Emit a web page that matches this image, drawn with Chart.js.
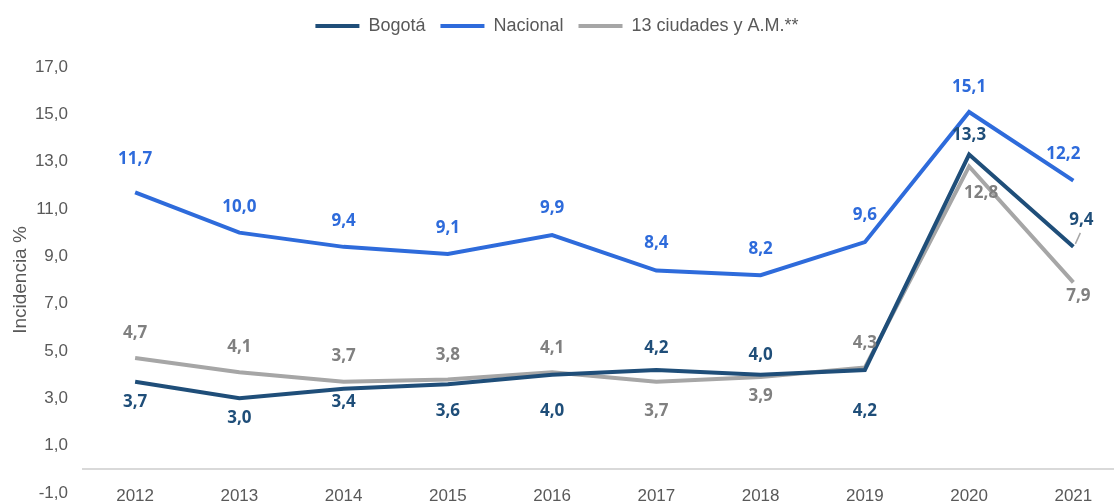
<!DOCTYPE html>
<html>
<head>
<meta charset="utf-8">
<script src="https://cdn.jsdelivr.net/npm/chart.js@4/dist/chart.umd.min.js"></script>
<style>
  html, body { margin: 0; padding: 0; background: #fff; }
  #wrap { width: 1114px; height: 501px; }
</style>
</head>
<body>
<div id="wrap"><canvas id="lineChart"></canvas></div>
<script>
const years = [2012, 2013, 2014, 2015, 2016, 2017, 2018, 2019, 2020, 2021];
const bogota = [3.7, 3.0, 3.4, 3.6, 4.0, 4.2, 4.0, 4.2, 13.3, 9.4];
const nacional = [11.7, 10.0, 9.4, 9.1, 9.9, 8.4, 8.2, 9.6, 15.1, 12.2];
const ciudades = [4.7, 4.1, 3.7, 3.8, 4.1, 3.7, 3.9, 4.3, 12.8, 7.9];

// where each value label sits relative to its point (pixels)
const bogotaLabelPos = [[0, 20], [0, 20], [0, 13], [0, 27], [0, 36], [0, -22], [0, -20], [0, 41], [0, -19], [8, -27]];
const nacionalLabelPos = [[0, -33], [0, -26], [0, -26], [0, -26], [0, -27], [0, -27], [0, -26], [0, -27], [0, -25], [-10, -26]];
const ciudadesLabelPos = [[0, -25], [0, -25], [0, -26], [0, -24], [0, -24], [0, 29], [0, 19], [0, -24], [12, 27], [5, 14]];

const toPoints = (vals) => vals.map((v, i) => ({ x: years[i], y: v }));
const fmt = (v) => v.toFixed(1).replace(".", ",");

const valueLabels = {
  id: "valueLabels",
  afterDatasetsDraw(chart) {
    const ctx = chart.ctx;
    ctx.save();
    ctx.font = "bold 17px 'Open Sans'";
    ctx.textAlign = "center";
    ctx.textBaseline = "middle";
    chart.data.datasets.forEach((ds, di) => {
      const meta = chart.getDatasetMeta(di);
      meta.data.forEach((pt, i) => {
        const off = ds.labelPos[i];
        // small leader line when the label was pushed sideways
        if (ds.leaders && ds.leaders.includes(i)) {
          ctx.strokeStyle = "#A6A6A6";
          ctx.lineWidth = 1.5;
          ctx.beginPath();
          ctx.moveTo(pt.x + 2, pt.y - 3);
          ctx.lineTo(pt.x + off[0] - 1, pt.y + off[1] + 13);
          ctx.stroke();
        }
        ctx.fillStyle = ds.labelColor;
        ctx.fillText(fmt(ds.data[i].y), pt.x + off[0], pt.y + off[1]);
      });
    });
    ctx.restore();
  },
};

// leave extra room under the legend
const legendSpace = {
  id: "legendSpace",
  beforeLayout(chart) {
    const lg = chart.legend;
    if (lg && !lg._extraSpace) {
      const fit = lg.fit;
      lg.fit = function () {
        fit.call(this);
        this.height += 22;
      };
      lg._extraSpace = true;
    }
  },
};

const tickFont = { family: "'Liberation Sans', Arial", size: 17 };

const chart = new Chart(document.getElementById("lineChart"), {
  type: "line",
  data: {
    datasets: [
      {
        label: "Bogotá",
        data: toPoints(bogota),
        borderColor: "#1F4E79",
        backgroundColor: "#1F4E79",
        labelColor: "#1F4E79",
        labelPos: bogotaLabelPos,
        leaders: [9],
        borderWidth: 4,
        pointRadius: 0,
        order: 1,
      },
      {
        label: "Nacional",
        data: toPoints(nacional),
        borderColor: "#2E6BDB",
        backgroundColor: "#2E6BDB",
        labelColor: "#2E6BDB",
        labelPos: nacionalLabelPos,
        borderWidth: 4,
        pointRadius: 0,
        order: 2,
      },
      {
        label: "13 ciudades y A.M.**",
        data: toPoints(ciudades),
        borderColor: "#A6A6A6",
        backgroundColor: "#A6A6A6",
        labelColor: "#808080",
        labelPos: ciudadesLabelPos,
        borderWidth: 4,
        pointRadius: 0,
        order: 3,
      },
    ],
  },
  plugins: [valueLabels, legendSpace],
  options: {
    responsive: true,
    maintainAspectRatio: false,
    animation: false,
    layout: { padding: { top: 2, right: 0, bottom: 8, left: 0 } },
    plugins: {
      tooltip: { enabled: false },
      legend: {
        position: "top",
        labels: {
          usePointStyle: true,
          pointStyle: "line",
          pointStyleWidth: 44,
          boxHeight: 10,
          color: "#595959",
          font: { family: "'Liberation Sans', Arial", size: 18 },
          padding: 15,
        },
      },
    },
    scales: {
      x: {
        type: "linear",
        position: { y: 0 },
        min: 2011.5,
        max: 2021.39,
        afterBuildTicks: (scale) => {
          scale.ticks = years.map((y) => ({ value: y }));
        },
        afterFit: (scale) => {
          scale.height = 0;
        },
        grid: { display: false, drawTicks: false },
        border: { display: true, color: "#D9D9D9", width: 2 },
        ticks: {
          color: "#595959",
          font: tickFont,
          padding: 17,
          maxRotation: 0,
          callback: (v) => String(v),
        },
      },
      y: {
        min: -1,
        max: 17,
        afterFit: (scale) => {
          scale.width = 83;
          scale.paddingTop = 0;
          scale.paddingBottom = 0;
        },
        grid: { display: false, drawTicks: false },
        border: { display: false },
        ticks: {
          stepSize: 2,
          color: "#595959",
          font: tickFont,
          padding: 15,
          callback: (v) => fmt(v),
        },
        title: {
          display: true,
          text: "Incidencia %",
          color: "#595959",
          font: { family: "'Liberation Sans', Arial", size: 19 },
          padding: { top: 9, bottom: 0 },
        },
      },
    },
  },
});
</script>
</body>
</html>
